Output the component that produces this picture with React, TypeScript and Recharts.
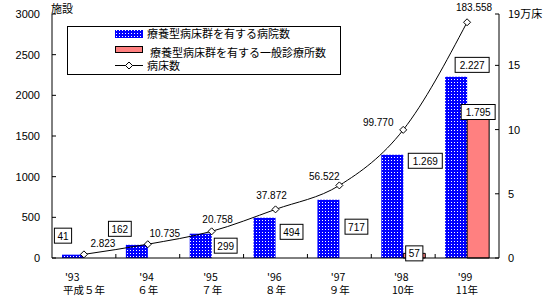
import React from "react";
import { ComposedChart, Bar, Line, XAxis, YAxis, LabelList } from "recharts";

// ---- data ----
const years = ["'93", "'94", "'95", "'96", "'97", "'98", "'99"];
const eras = ["平成５年", "６年", "７年", "８年", "９年", "10年", "11年"];
const hospitals = [41, 162, 299, 494, 717, 1269, 2227];
const clinics: (number | null)[] = [null, null, null, null, null, 57, 1795];
const beds = [2823, 10735, 20758, 37872, 56522, 99770, 183558];
const leftTicks = [0, 500, 1000, 1500, 2000, 2500, 3000];
const rightTicks = [0, 50000, 100000, 150000, 190000];

// ---- label placement (layout, not data) ----
const hospitalLabelOffsets = [
  [-10, -19], [-17, -16], [25, 12], [27, 14], [28, 27], [33, 6], [16, -12],
];
const clinicLabelOffsets = [
  [0, 0], [0, 0], [0, 0], [0, 0], [0, 0], [6, -13], [6, -14],
];
const bedLabelOffsets = [
  [19, -11], [17, -11], [6, -12], [-4, -14], [-15, -9], [-25, -8], [7, -15],
];

const data = years.map((y, i) => ({
  year: y,
  era: eras[i],
  hospitals: hospitals[i],
  clinics: clinics[i],
  beds: beds[i],
}));

const JP = '"Noto Sans CJK JP", "Noto Sans", sans-serif';
const NUM = '"Liberation Sans", Arial, sans-serif';
const BLUE = "#0000FF";
const PINK = "#FF8080";

const fmt = (v: number) => v.toLocaleString("en-US").replace(/,/g, ".");

const textW = (s: string) => {
  let w = 0;
  for (const ch of s) w += ch.charCodeAt(0) > 255 ? 10.5 : 6;
  return w;
};

const DotPattern = ({ id }: { id: string }) => (
  <pattern id={id} x="0" y="0" width="3" height="3" patternUnits="userSpaceOnUse">
    <rect x="0" y="0" width="3" height="3" style={{ fill: BLUE }} />
    <rect x="1" y="1" width="1" height="1" style={{ fill: "#FFFFFF" }} />
  </pattern>
);

const LeftTick = (props: any) => {
  const { x, y, payload } = props;
  return (
    <g>
      <line x1={x} y1={y} x2={x + 4} y2={y} stroke="#000" />
      <text x={x - 12} y={y + 4} textAnchor="end" fontSize={11} fontFamily={NUM} fill="#000">
        {payload.value}
      </text>
    </g>
  );
};

const RightTick = (props: any) => {
  const { x, y, payload } = props;
  const v = payload.value as number;
  const label = v === 190000 ? "19万床" : String(v / 10000);
  return (
    <g>
      <line x1={x - 4} y1={y} x2={x} y2={y} stroke="#000" />
      <text x={x + 9} y={y + 4} textAnchor="start" fontSize={11} fontFamily={v === 190000 ? JP : NUM} fill="#000">
        {label}
      </text>
    </g>
  );
};

const XTick = (props: any) => {
  const { x, y, payload, index } = props;
  const half = payload && payload.offset ? payload.offset : 447 / 7 / 2;
  const l1 = data[index]?.year ?? payload.value;
  const l2 = data[index]?.era ?? "";
  const bw = Math.max(textW(l1), textW(l2));
  const left = x - bw / 2;
  return (
    <g>
      {index > 0 && <line x1={x - half} y1={y} x2={x - half} y2={y - 4} stroke="#000" />}
      <text x={left + 2} y={y + 23} fontSize={10.5} fontFamily={JP} fill="#000">{l1}</text>
      <text x={left} y={y + 36} fontSize={10.5} fontFamily={JP} fill="#000">{l2}</text>
    </g>
  );
};

const makeBoxLabel = (offsets: number[][]) => (props: any) => {
  const { x, y, width, value, index } = props;
  if (value === null || value === undefined) return null;
  const s = fmt(Number(value));
  const [dx, dy] = offsets[index] || [0, 0];
  const cx = Number(x) + Number(width) / 2 + dx;
  const cy = Number(y) + dy;
  const w = s.length * 5.6 + 6;
  const h = 15;
  return (
    <g>
      <rect x={cx - w / 2} y={cy - h / 2} width={w} height={h} fill="#fff" stroke="#000" strokeWidth={1} />
      <text x={cx} y={cy + 4} textAnchor="middle" fontSize={10} fontFamily={NUM} fill="#000">{s}</text>
    </g>
  );
};

const BedLabel = (props: any) => {
  const { x, y, value, index } = props;
  const [dx, dy] = bedLabelOffsets[index] || [0, 0];
  return (
    <text x={Number(x) + dx} y={Number(y) + dy + 4} textAnchor="middle" fontSize={10} fontFamily={NUM} fill="#000">
      {fmt(Number(value))}
    </text>
  );
};

const Diamond = (props: any) => {
  const { cx, cy } = props;
  if (cx == null || cy == null) return null;
  const r = 3.5;
  return (
    <path
      d={`M${cx},${cy - r}L${cx + r},${cy}L${cx},${cy + r}L${cx - r},${cy}Z`}
      fill="#fff"
      stroke="#000"
      strokeWidth={1}
    />
  );
};

const AxisTitle = (props: any) => {
  return (
    <text x={51} y={13} fontSize={11} fontFamily={JP} fill="#000">
      施設
    </text>
  );
};

const LegendBox = () => (
  <div style={{ position: "absolute", left: 67, top: 26, width: 274, height: 49 }}>
    <svg width={274} height={49} style={{ display: "block" }}>
      <defs>
        <DotPattern id="dotsLegend" />
      </defs>
      <rect x={0.5} y={0.5} width={273} height={48} fill="#fff" stroke="#000" />
      <rect x={48} y={4} width={28} height={8} fill="url(#dotsLegend)" />
      <text x={80} y={12} fontSize={11} fontFamily={JP} fill="#000">療養型病床群を有する病院数</text>
      <rect x={48.5} y={20.5} width={27} height={6} fill={PINK} stroke="#000" />
      <text x={83} y={31} fontSize={11} fontFamily={JP} fill="#000">療養型病床群を有する一般診療所数</text>
      <line x1={48} y1={39.5} x2={76} y2={39.5} stroke="#000" />
      <path d="M62,36L65.5,39.5L62,43L58.5,39.5Z" fill="#fff" stroke="#000" />
      <text x={80} y={44} fontSize={11} fontFamily={JP} fill="#000">病床数</text>
    </svg>
  </div>
);

export default function App() {
  return (
    <div style={{ position: "absolute", left: 0, top: 0, width: 550, height: 303, background: "#fff" }}>
      <ComposedChart
        width={550}
        height={303}
        data={data}
        margin={{ top: 14, right: 0, bottom: 0, left: 0 }}
        barCategoryGap={10}
        barGap={0}
      >
        <defs>
          <DotPattern id="dotsBlue" />
        </defs>
        <XAxis
          dataKey="year"
          height={45}
          interval={0}
          tickLine={false}
          tickSize={0}
          tickMargin={0}
          axisLine={{ stroke: "#000" }}
          tick={<XTick />}
        />
        <YAxis
          yAxisId="left"
          width={52}
          domain={[0, 3000]}
          ticks={leftTicks}
          interval={0}
          tickLine={false}
          tickSize={0}
          tickMargin={0}
          axisLine={{ stroke: "#000" }}
          tick={<LeftTick />}
          label={<AxisTitle />}
        />
        <YAxis
          yAxisId="right"
          orientation="right"
          width={51}
          domain={[0, 190000]}
          ticks={rightTicks}
          interval={0}
          tickLine={false}
          tickSize={0}
          tickMargin={0}
          axisLine={{ stroke: "#000" }}
          tick={<RightTick />}
        />
        <Bar yAxisId="left" dataKey="hospitals" fill="url(#dotsBlue)" isAnimationActive={false}>
          <LabelList dataKey="hospitals" content={makeBoxLabel(hospitalLabelOffsets)} />
        </Bar>
        <Bar yAxisId="left" dataKey="clinics" fill={PINK} stroke="#000" strokeWidth={1} isAnimationActive={false}>
          <LabelList dataKey="clinics" content={makeBoxLabel(clinicLabelOffsets)} />
        </Bar>
        <Line
          yAxisId="right"
          dataKey="beds"
          type="monotone"
          stroke="#000"
          strokeWidth={1}
          dot={<Diamond />}
          activeDot={false}
          isAnimationActive={false}
        >
          <LabelList dataKey="beds" content={BedLabel} />
        </Line>
      </ComposedChart>
      <LegendBox />
    </div>
  );
}
